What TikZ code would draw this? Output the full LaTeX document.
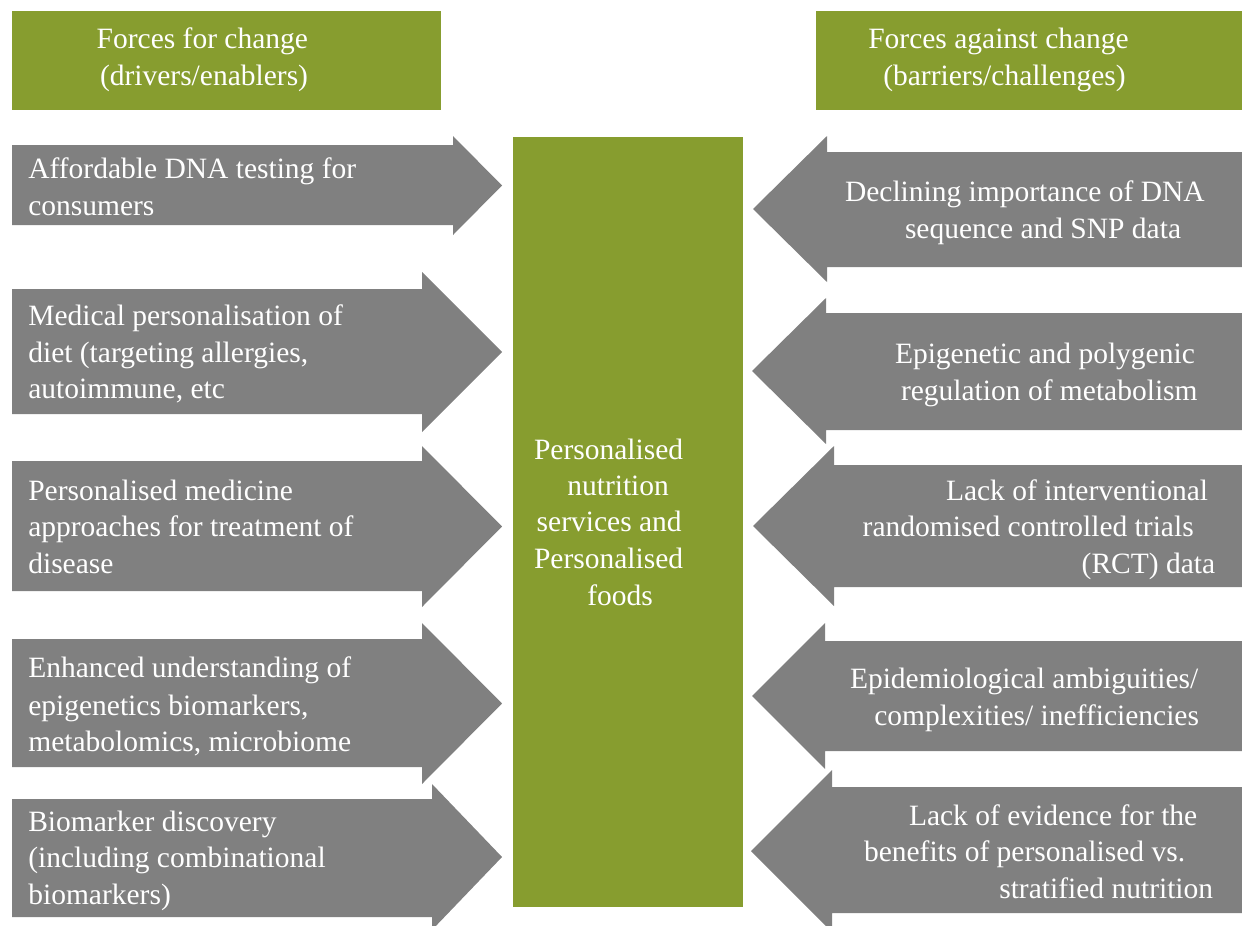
\documentclass[tikz,border=0pt]{standalone}
\usepackage{fontspec}
\setmainfont{Liberation Serif}
\definecolor{olivegreen}{RGB}{135,157,47}
\definecolor{arrowgray}{RGB}{128,128,128}
\begin{document}
\begin{tikzpicture}[x=1pt,y=-1pt,
  box/.style={fill=olivegreen},
  arrowshape/.style={fill=arrowgray},
  txt/.style={anchor=base west,inner sep=0pt,outer sep=0pt,text=white,font=\fontsize{29.5}{36.5}\selectfont}]
\useasboundingbox[fill=white] (0,0) rectangle (1242,926);
% headers and centre box
\fill[box] (12,11) rectangle (441,110);
\fill[box] (816,11) rectangle (1242,110);
\fill[box] (513,137) rectangle (743,907);
% left arrows (pointing right)
\fill[arrowshape] (12,145) -- (453,145) -- (453,136) -- (502,185.5) -- (453,235) -- (453,225) -- (12,225) -- cycle;
\fill[arrowshape] (12,289) -- (422,289) -- (422,272) -- (502,352) -- (422,432) -- (422,414) -- (12,414) -- cycle;
\fill[arrowshape] (12,461) -- (422,461) -- (422,446) -- (502,526.5) -- (422,607) -- (422,591) -- (12,591) -- cycle;
\fill[arrowshape] (12,639) -- (422,639) -- (422,623) -- (502,703.5) -- (422,784) -- (422,767) -- (12,767) -- cycle;
\fill[arrowshape] (12,799) -- (432,799) -- (432,784) -- (502,857) -- (432,930) -- (432,917) -- (12,917) -- cycle;
% right arrows (pointing left)
\fill[arrowshape] (1242,152) -- (827,152) -- (827,136) -- (753,209) -- (827,282) -- (827,267) -- (1242,267) -- cycle;
\fill[arrowshape] (1242,313) -- (826,313) -- (826,298) -- (752,371) -- (826,444) -- (826,430) -- (1242,430) -- cycle;
\fill[arrowshape] (1242,465) -- (834,465) -- (834,446) -- (753,526) -- (834,606) -- (834,587) -- (1242,587) -- cycle;
\fill[arrowshape] (1242,641) -- (825,641) -- (825,623) -- (752,696) -- (825,769) -- (825,751) -- (1242,751) -- cycle;
\fill[arrowshape] (1242,787) -- (832,787) -- (832,770) -- (751,851) -- (832,932) -- (832,913) -- (1242,913) -- cycle;
% header texts
\node[txt] (h1a) at (96.7,48.3) {Forces for change};
\node[txt] (h1b) at (100,85) {(drivers/enablers)};
\node[txt] (h2a) at (868.3,48.3) {Forces against change};
\node[txt] (h2b) at (883.3,85) {(barriers/challenges)};
% centre text
\node[txt] (c1) at (534,459.3) {Personalised};
\node[txt] (c2) at (567.3,495.5) {nutrition};
\node[txt] (c3) at (536.7,531.7) {services and};
\node[txt] (c4) at (534,568.3) {Personalised};
\node[txt] (c5) at (587.3,605) {foods};
% left texts
\node[txt] (l1a) at (28.3,178.3) {Affordable DNA testing for};
\node[txt] (l1b) at (28.3,215) {consumers};
\node[txt] (l2a) at (28.3,325) {Medical personalisation of};
\node[txt] (l2b) at (28.3,362) {diet (targeting allergies,};
\node[txt] (l2c) at (28.3,398.5) {autoimmune, etc};
\node[txt] (l3a) at (28.3,500) {Personalised medicine};
\node[txt] (l3b) at (28.3,536.7) {approaches for treatment of};
\node[txt] (l3c) at (28.3,573.3) {disease};
\node[txt] (l4a) at (28.3,677.7) {Enhanced understanding of};
\node[txt] (l4b) at (28.3,715) {epigenetics biomarkers,};
\node[txt] (l4c) at (28.3,751.7) {metabolomics, microbiome};
\node[txt] (l5a) at (28.3,831) {Biomarker discovery};
\node[txt] (l5b) at (28.3,867.3) {(including combinational};
\node[txt] (l5c) at (28.3,904.3) {biomarkers)};
% right texts
\node[txt] (r1a) at (845,201.7) {Declining importance of DNA};
\node[txt] (r1b) at (905,238.3) {sequence and SNP data};
\node[txt] (r2a) at (895,363.3) {Epigenetic and polygenic};
\node[txt] (r2b) at (901,400) {regulation of metabolism};
\node[txt] (r3a) at (946,500) {Lack of interventional};
\node[txt] (r3b) at (862.7,536.7) {randomised controlled trials};
\node[txt] (r3c) at (1081.7,573.3) {(RCT) data};
\node[txt] (r4a) at (850,688.3) {Epidemiological ambiguities/};
\node[txt] (r4b) at (874.3,725) {complexities/ inefficiencies};
\node[txt] (r5a) at (909,825) {Lack of evidence for the};
\node[txt] (r5b) at (864,861.7) {benefits of personalised vs.};
\node[txt] (r5c) at (999.3,898.3) {stratified nutrition};
\end{tikzpicture}
\end{document}
